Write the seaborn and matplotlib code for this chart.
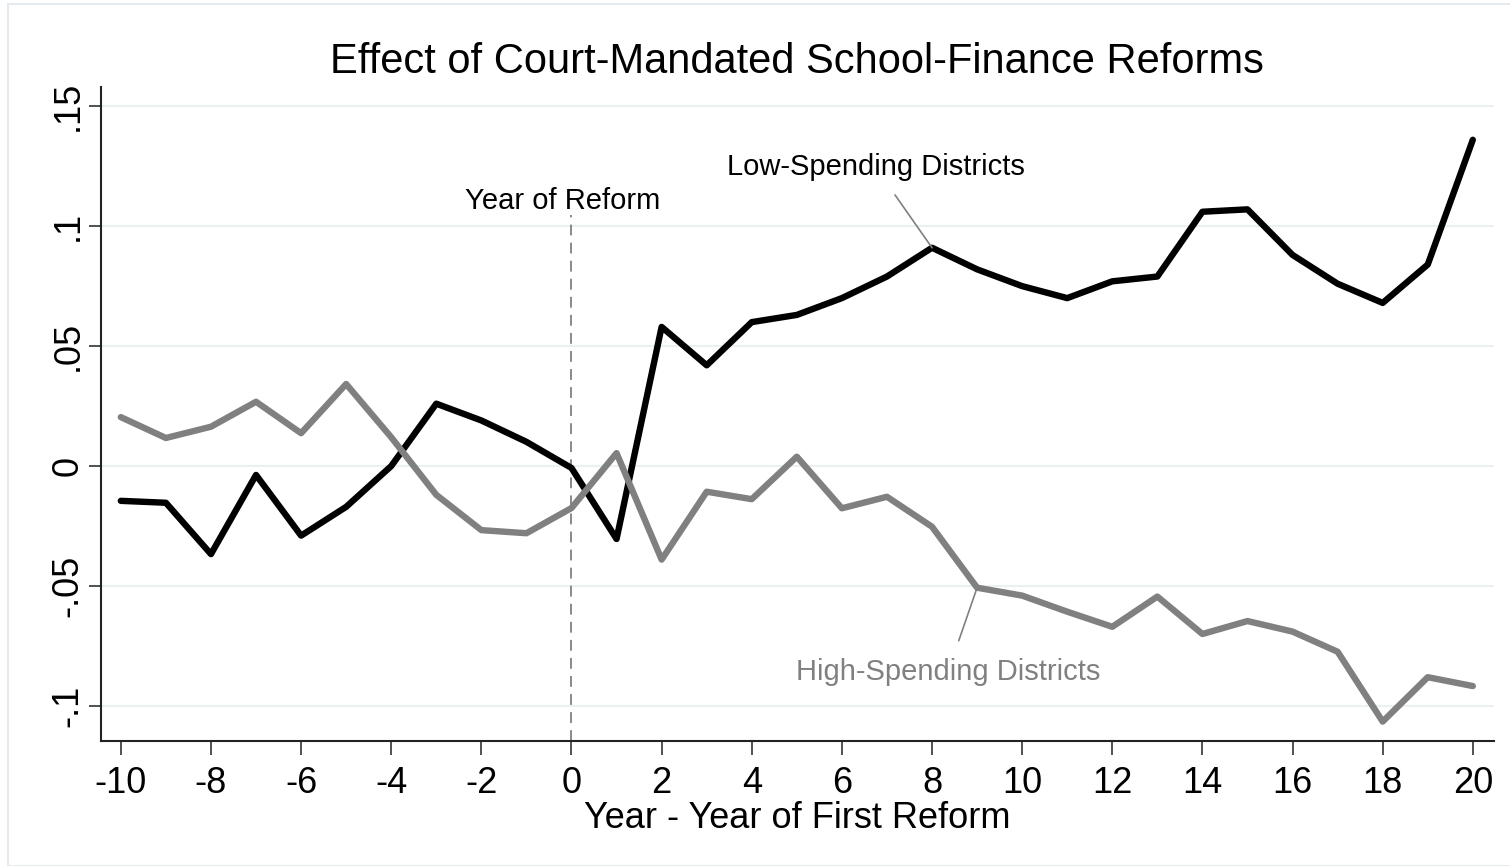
import numpy as np
import pandas as pd
import seaborn as sns
from matplotlib import pyplot as plt
from matplotlib.patches import Rectangle

# Năm so với năm cải cách đầu tiên
years = list(range(-10, 21))

low_spending = [-0.0145, -0.0153, -0.0367, -0.0037, -0.029, -0.017, 0.0, 0.026, 0.019, 0.0101,
                -0.0008, -0.0304, 0.058, 0.042, 0.060, 0.063, 0.070, 0.079, 0.091, 0.082,
                0.075, 0.070, 0.077, 0.079, 0.106, 0.107, 0.088, 0.076, 0.068, 0.084, 0.136]

high_spending = [0.0204, 0.0117, 0.0164, 0.0268, 0.0137, 0.0342, 0.012, -0.012, -0.0267, -0.028,
                 -0.0175, 0.0054, -0.039, -0.0107, -0.0138, 0.0039, -0.0176, -0.0128, -0.0253, -0.0507,
                 -0.054, -0.0607, -0.067, -0.0544, -0.070, -0.0646, -0.069, -0.0774, -0.1065, -0.088, -0.0917]

x_ticks = list(range(-10, 21, 2))
y_ticks = [-0.1, -0.05, 0, 0.05, 0.1, 0.15]
y_tick_labels = ['-.1', '-.05', '0', '.05', '.1', '.15']

df = pd.DataFrame({'year': years * 2,
                   'effect': low_spending + high_spending,
                   'group': ['Low'] * len(years) + ['High'] * len(years)})

sns.set_style('white')
plt.rcParams['font.family'] = ['Liberation Sans', 'DejaVu Sans']
plt.rcParams['text.color'] = 'black'
plt.rcParams['axes.labelcolor'] = 'black'
plt.rcParams['xtick.labelcolor'] = 'black'
plt.rcParams['ytick.labelcolor'] = 'black'

fig = plt.figure(figsize=(15.1, 8.66), dpi=100)
# khung viền nhạt kiểu Stata
fig.patches.append(Rectangle((8 / 1510, 0), 1, 1 - 4 / 866, transform=fig.transFigure,
                             fill=False, edgecolor='#e4eaee', linewidth=1.5))
ax = fig.add_axes([101 / 1510, 1 - 741 / 866, (1494 - 101) / 1510, (741 - 87) / 866])

for yt in y_ticks:
    ax.axhline(yt, color='#eaf1f3', linewidth=1.5, zorder=0)

ax.plot([0, 0], [-0.1146, 0.1045], color='#808080', linestyle=(0, (6, 4)), linewidth=1.3, zorder=1)

sns.lineplot(data=df, x='year', y='effect', hue='group', hue_order=['Low', 'High'],
             palette={'Low': 'black', 'High': '#808080'}, linewidth=4.6, legend=False, ax=ax, zorder=3)

ax.set_xlim(-10.44, 20.47)
ax.set_ylim(-0.1146, 0.158)
ax.set_xticks(x_ticks)
ax.set_xticklabels([str(t) for t in x_ticks], fontsize=26)
ax.set_yticks(y_ticks)
ax.set_yticklabels(y_tick_labels, fontsize=26, rotation=90, va='center')
ax.tick_params(axis='x', length=10, width=1.2, color='#333333', pad=8, direction='out', bottom=True)
ax.tick_params(axis='y', length=9, width=1.2, color='#333333', pad=2, direction='out', left=True)

for s in ['top', 'right']:
    ax.spines[s].set_visible(False)
for s in ['left', 'bottom']:
    ax.spines[s].set_color('#222222')
    ax.spines[s].set_linewidth(1.5)

ax.set_xlabel('Year - Year of First Reform', fontsize=26, labelpad=0)
ax.set_ylabel('')
fig.text(797 / 1510, 1 - 62 / 866, 'Effect of Court-Mandated School-Finance Reforms',
         fontsize=30, ha='center', va='center')

ax.text(-0.2, 0.1105, 'Year of Reform', fontsize=21, ha='center', va='center')
ax.annotate('Low-Spending Districts', xy=(8, 0.091), xytext=(6.75, 0.1245),
            fontsize=21, ha='center', va='center',
            arrowprops=dict(arrowstyle='-', color='#808080', linewidth=1.2, shrinkA=9, shrinkB=0))
ax.annotate('High-Spending Districts', xy=(9, -0.0507), xytext=(8.35, -0.086),
            fontsize=21, ha='center', va='center', color='#808080',
            arrowprops=dict(arrowstyle='-', color='#808080', linewidth=1.2, shrinkA=11, shrinkB=0))

plt.savefig('out.png', dpi=100)
